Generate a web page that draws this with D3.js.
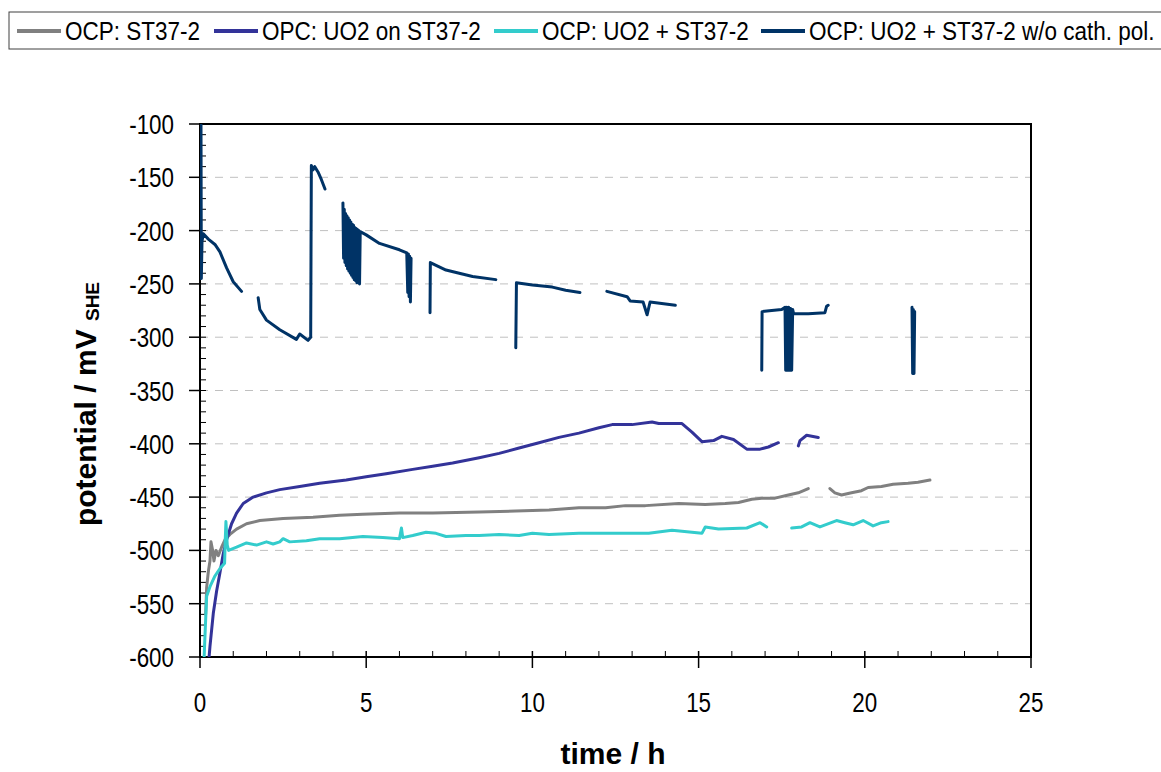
<html>
<head>
<script src="https://d3js.org/d3.v7.min.js"></script>
<style>
  body { margin: 0; background: #fff; }
  text { font-family: Arial, "Liberation Sans", sans-serif; }
</style>
</head>
<body>
<div id="chart"></div>
<script>
// data: [time h, potential mV]; null = gap in the record
const ocpSteel = [
  [0.17,-560],[0.2,-535],[0.25,-520],[0.3,-510],[0.33,-492],[0.38,-500],[0.42,-510],[0.48,-500],
  [0.55,-505],[0.65,-497],[0.75,-490],[0.9,-485],[1.1,-480],[1.4,-475],[1.8,-472],[2.5,-470],
  [3.4,-469],[4.2,-467],[4.9,-466],[6,-465],[7,-465],[8.4,-464],[9.5,-463],[10.5,-462],[11.4,-460],
  [12.2,-460],[12.8,-458],[13.4,-458],[14.4,-456],[15.2,-457],[15.8,-456],[16.2,-455],[16.6,-452],
  [16.9,-451],[17.3,-451],[17.7,-448],[18.0,-446],[18.3,-442], null,
  [18.95,-442],[19.1,-446],[19.3,-448],[19.6,-446],[19.9,-444],[20.1,-441],[20.5,-440],
  [20.85,-438],[21.3,-437],[21.6,-436],[21.96,-434]
]
const opcUo2OnSteel = [
  [0.22,-620],[0.3,-590],[0.4,-559],[0.5,-538],[0.6,-521],[0.7,-503],[0.8,-490],[0.95,-475],
  [1.1,-465],[1.3,-456],[1.6,-450],[2.0,-446],[2.4,-443],[3.0,-440],[3.6,-437],[4.4,-434],
  [5.0,-431],[5.6,-428],[6.4,-424],[7.0,-421],[7.6,-418],[8.4,-413],[9.0,-409],[9.6,-404],
  [10.2,-399],[10.8,-394],[11.4,-390],[12.0,-385],[12.4,-382],[13.0,-382],[13.6,-379.5],
  [13.8,-381],[14.5,-381],[14.8,-389],[15.1,-398],[15.45,-397],[15.7,-393],[16.05,-396],
  [16.45,-405],[16.85,-405],[17.1,-403],[17.4,-399], null,
  [18.0,-402],[18.05,-397],[18.25,-392],[18.6,-394]
]
const ocpUo2Steel = [
  [0.1,-620],[0.15,-580],[0.2,-543],[0.3,-534],[0.45,-524],[0.6,-517],[0.74,-512],[0.76,-490],
  [0.78,-473],[0.82,-495],[0.86,-500],[1.1,-497],[1.4,-493],[1.7,-495],[2.0,-492],[2.2,-494],
  [2.4,-492],[2.5,-489],[2.7,-492],[3.2,-491],[3.6,-489],[4.2,-489],[4.9,-487],[5.5,-488],
  [6.0,-489],[6.06,-479],[6.1,-488],[6.4,-486],[6.8,-483],[7.1,-484],[7.4,-487],[8.0,-486],
  [8.4,-486],[9,-485],[9.6,-486],[10,-484],[10.5,-485],[11.4,-484],[12.5,-484],[13.5,-484],
  [14.2,-481],[15.1,-484],[15.2,-478],[15.6,-480],[16.45,-479],[16.85,-474],[17.05,-478], null,
  [17.8,-479],[18.1,-478],[18.35,-474],[18.65,-478],[19.15,-472],[19.4,-474],[19.65,-476],
  [19.95,-472],[20.25,-477],[20.5,-474],[20.7,-473]
]
const ocpUo2SteelNoPol = [
  [0.03,-100],[0.04,-245],[0.06,-210],[0.1,-203],[0.25,-208],[0.45,-213],[0.6,-220],[0.8,-235],
  [1.0,-248],[1.25,-257], null,
  [1.75,-263],[1.8,-274],[2.0,-284],[2.4,-293],[2.9,-302],[3.0,-297],[3.25,-303],[3.33,-300],
  [3.35,-139],[3.4,-143],[3.45,-140],[3.55,-145],[3.65,-152],[3.76,-161], null,
  [4.30,-174],[4.32,-226],[4.34,-180],[4.36,-230],[4.38,-184],[4.40,-233],[4.42,-186],[4.44,-236],
  [4.46,-188],[4.48,-238],[4.50,-190],[4.52,-240],[4.54,-192],[4.56,-242],[4.58,-194],[4.60,-244],
  [4.62,-195],[4.64,-246],[4.66,-197],[4.68,-247],[4.70,-198],[4.72,-249],[4.74,-199],[4.76,-249],
  [4.78,-200],[4.80,-250],[4.82,-201],[5.0,-204],[5.4,-212],[6.0,-218],[6.22,-221],[6.25,-258],
  [6.27,-222],[6.29,-262],[6.31,-224],[6.33,-267],[6.35,-226], null,
  [6.92,-277],[6.93,-230],[7.4,-237],[8.2,-243],[8.9,-246], null,
  [9.5,-310],[9.52,-249],[10.0,-251],[10.6,-253],[11.0,-256],[11.43,-258], null,
  [12.24,-257],[12.85,-262],[12.94,-266],[13.33,-267],[13.45,-279],[13.54,-267],[14.3,-270], null,
  [16.9,-331],[16.91,-276],[17.2,-275],[17.5,-274],[17.6,-272],[17.62,-331],[17.65,-272],
  [17.68,-331],[17.71,-272],[17.74,-331],[17.77,-273],[17.8,-331],[17.83,-274],[17.86,-278],
  [18.3,-278],[18.8,-277],[18.85,-271],[18.9,-270], null,
  [21.42,-272],[21.44,-334],[21.46,-274],[21.48,-334],[21.5,-276]
]
const seriesNames = ['OCP: ST37-2', 'OPC: UO2 on ST37-2', 'OCP: UO2 + ST37-2', 'OCP: UO2 + ST37-2 w/o cath. pol.']
const seriesColors = ['#808080', '#333399', '#33CCCC', '#003366']
const xTicks = [0, 5, 10, 15, 20, 25]
const yTicks = [-100, -150, -200, -250, -300, -350, -400, -450, -500, -550, -600]

const W = 1161, H = 772
const svg = d3.select('#chart').append('svg').attr('width', W).attr('height', H)
const x = d3.scaleLinear().domain([0, 25]).range([200, 1031])
const y = d3.scaleLinear().domain([-600, -100]).range([657, 124])

// grid
svg.append('g').selectAll('line').data(yTicks.slice(1, -1)).enter().append('line')
  .attr('x1', 200).attr('x2', 1031)
  .attr('y1', d => y(d)).attr('y2', d => y(d))
  .attr('stroke', '#c0c0c0').attr('stroke-width', 1).attr('stroke-dasharray', '8,7')

// frame
svg.append('rect').attr('x', 200).attr('y', 124).attr('width', 831).attr('height', 533)
  .attr('fill', 'none').attr('stroke', '#000').attr('stroke-width', 2)

// minor ticks
svg.append('g').selectAll('line').data(d3.range(-590, -100, 10)).enter().append('line')
  .attr('x1', 200).attr('x2', 206).attr('y1', d => y(d)).attr('y2', d => y(d))
  .attr('stroke', '#000').attr('stroke-width', 1)
svg.append('g').selectAll('line').data(d3.range(1, 25).filter(d => d % 5)).enter().append('line')
  .attr('x1', d => x(d)).attr('x2', d => x(d)).attr('y1', 657).attr('y2', 651)
  .attr('stroke', '#000').attr('stroke-width', 1)
// major ticks
svg.append('g').selectAll('line').data(yTicks).enter().append('line')
  .attr('x1', 189).attr('x2', 200).attr('y1', d => y(d)).attr('y2', d => y(d))
  .attr('stroke', '#000').attr('stroke-width', 1.5)
svg.append('g').selectAll('line').data(xTicks).enter().append('line')
  .attr('x1', d => x(d)).attr('x2', d => x(d)).attr('y1', 651).attr('y2', 668)
  .attr('stroke', '#000').attr('stroke-width', 1.5)

// tick labels (narrow, tall glyphs like the original)
svg.append('g').selectAll('text').data(yTicks).enter().append('text')
  .attr('transform', d => `translate(174,${y(d) + 10}) scale(0.8,1)`)
  .attr('text-anchor', 'end').attr('font-size', 28)
  .text(d => d)
svg.append('g').selectAll('text').data(xTicks).enter().append('text')
  .attr('transform', d => `translate(${x(d)},712) scale(0.8,1)`)
  .attr('text-anchor', 'middle').attr('font-size', 28)
  .text(d => d)

// axis titles
svg.append('text').attr('x', 613).attr('y', 764)
  .attr('text-anchor', 'middle').attr('font-size', 30).attr('font-weight', 'bold')
  .text('time / h')
let yt = svg.append('text').attr('transform', 'translate(96,404) rotate(-90)')
  .attr('text-anchor', 'middle').attr('font-size', 30).attr('font-weight', 'bold')
yt.append('tspan').text('potential / mV ')
yt.append('tspan').attr('font-size', 19).attr('dy', 3).text('SHE')

// series
svg.append('clipPath').attr('id', 'clip').append('rect')
  .attr('x', 200).attr('y', 124).attr('width', 831).attr('height', 533)
const line = d3.line().defined(d => d !== null).x(d => x(d[0])).y(d => y(d[1]))
const allSeries = [ocpSteel, opcUo2OnSteel, ocpUo2Steel, ocpUo2SteelNoPol]
svg.append('g').attr('clip-path', 'url(#clip)')
  .selectAll('path').data(allSeries).enter().append('path')
  .attr('d', d => line(d))
  .attr('fill', 'none')
  .attr('stroke', (d, i) => seriesColors[i])
  .attr('stroke-width', 3)
  .attr('stroke-linejoin', 'round')
  .attr('stroke-linecap', 'round')

// legend
svg.append('rect').attr('x', 9).attr('y', 12).attr('width', 1170).attr('height', 37)
  .attr('fill', '#fff').attr('stroke', '#404040').attr('stroke-width', 1)
const legX = [17, 214, 494, 761]
const lg = svg.append('g').selectAll('g').data(seriesNames).enter().append('g')
  .attr('transform', (d, i) => `translate(${legX[i]},31)`)
lg.append('line').attr('x1', 0).attr('x2', 44).attr('y1', 0).attr('y2', 0)
  .attr('stroke', (d, i) => seriesColors[i]).attr('stroke-width', 4)
lg.append('text').attr('transform', 'translate(48,9) scale(0.9,1)')
  .attr('font-size', 25).text(d => d)
</script>
</body>
</html>
